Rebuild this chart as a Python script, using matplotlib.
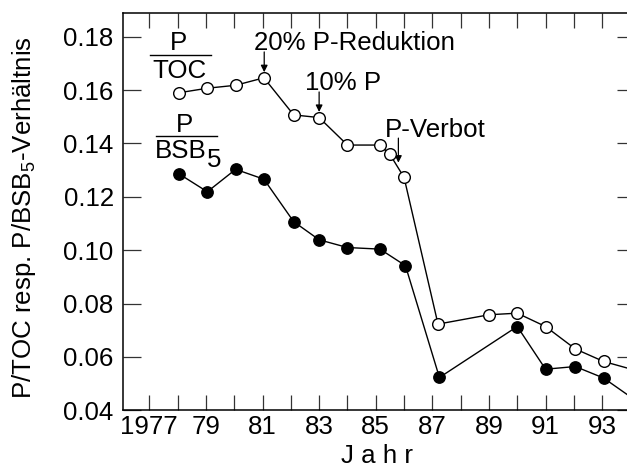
import matplotlib
matplotlib.use("Agg")
import matplotlib.pyplot as plt
from matplotlib.lines import Line2D

plt.rcParams['font.family'] = ['Liberation Sans', 'DejaVu Sans']
plt.rcParams['mathtext.fontset'] = 'custom'
plt.rcParams['mathtext.rm'] = 'Liberation Sans'
plt.rcParams['mathtext.default'] = 'regular'

# ---- data ----
toc_years = [1978.05, 1979.05, 1980.05, 1981.05, 1982.1, 1983.0, 1984.0, 1985.15,
             1985.5, 1986.0, 1987.2, 1989.0, 1990.0, 1991.0, 1992.05, 1993.05, 1994.1]
toc_vals = [0.1590, 0.1607, 0.1618, 0.1646, 0.1507, 0.1497, 0.1394, 0.1394,
            0.1359, 0.1273, 0.0723, 0.0758, 0.0764, 0.0714, 0.0630, 0.0583, 0.0552]

bsb_years = [1978.05, 1979.05, 1980.05, 1981.05, 1982.1, 1983.0, 1984.0, 1985.15,
             1986.05, 1987.25, 1990.0, 1991.0, 1992.05, 1993.05, 1994.1]
bsb_vals = [0.1286, 0.1219, 0.1303, 0.1266, 0.1107, 0.1039, 0.1010, 0.1004,
            0.0942, 0.0523, 0.0714, 0.0554, 0.0564, 0.0521, 0.0443]

x_ticks = list(range(1977, 1994))
x_ticklabels = ['1977', '', '79', '', '81', '', '83', '', '85', '', '87', '', '89', '', '91', '', '93']
y_ticks = [0.04, 0.06, 0.08, 0.10, 0.12, 0.14, 0.16, 0.18]

annotations = [
    ("20% P-Reduktion", 1980.70, 0.1750, 1981.06, 0.1743, 0.1667),
    ("10% P", 1982.51, 0.1600, 1983.0, 0.1593, 0.1518),
    ("P-Verbot", 1985.33, 0.1424, 1985.80, 0.1420, 0.1328),
]

FS = 18.6
W, H = 627, 468
fig = plt.figure(figsize=(W / 100, H / 100), dpi=100)
ax = fig.add_axes([122.7 / W, 1 - 410.3 / H, (635 - 122.7) / W, (410.3 - 12.7) / H])

ax.plot(bsb_years, bsb_vals, '-o', color='black', lw=1.0, markersize=8.2,
        markerfacecolor='black', markeredgecolor='black', zorder=3)
ax.plot(toc_years, toc_vals, '-o', color='black', lw=1.0, markersize=8.4,
        markerfacecolor='white', markeredgecolor='black', markeredgewidth=1.0, zorder=4)

ax.set_xlim(1976.06, 1994.16)
ax.set_ylim(0.04, 0.189)
ax.set_xticks(x_ticks)
ax.set_xticklabels(x_ticklabels)
ax.set_yticks(y_ticks)
ax.set_yticklabels([f"{v:.2f}" for v in y_ticks])
ax.tick_params(axis='y', direction='in', length=13, width=0.9, labelsize=FS, pad=6.5,
               left=True, right=True, color='#333333')
ax.tick_params(axis='x', direction='in', length=10.5, width=0.9, labelsize=FS, pad=3.5,
               top=True, bottom=True, color='#333333')
for s in ax.spines.values():
    s.set_linewidth(1.1)
    s.set_color('black')

# series labels
ax.text(1978.03, 0.1750, "P", fontsize=FS, ha='center', va='baseline')
ax.add_line(Line2D([1977.03, 1979.18], [0.1731, 0.1731], color='black', lw=1.0))
ax.text(1978.08, 0.1645, "TOC", fontsize=FS, ha='center', va='baseline')

ax.text(1978.23, 0.1443, "P", fontsize=FS, ha='center', va='baseline')
ax.add_line(Line2D([1977.24, 1979.39], [0.1428, 0.1428], color='black', lw=1.0))
ax.text(1977.2, 0.1346, "BSB", fontsize=FS, ha='left', va='baseline')
ax.text(1979.02, 0.1312, "5", fontsize=FS, ha='left', va='baseline')

for label, tx, ty, ax_x, y0, y1 in annotations:
    ax.text(tx, ty, label, fontsize=FS, ha='left', va='baseline')
    ax.annotate('', xy=(ax_x, y1), xytext=(ax_x, y0),
                arrowprops=dict(arrowstyle='-|>', color='black', lw=0.9,
                                mutation_scale=10, shrinkA=0, shrinkB=0))

fig.text(377 / W, 1 - 463 / H, "J a h r", fontsize=FS, ha='center', va='baseline')
fig.text(24 / W, 1 - 218 / H, "P/TOC resp. P/BSB$_5$-Verhältnis", fontsize=FS,
         rotation=90, ha='center', va='center')

fig.savefig("out.png", dpi=100)
